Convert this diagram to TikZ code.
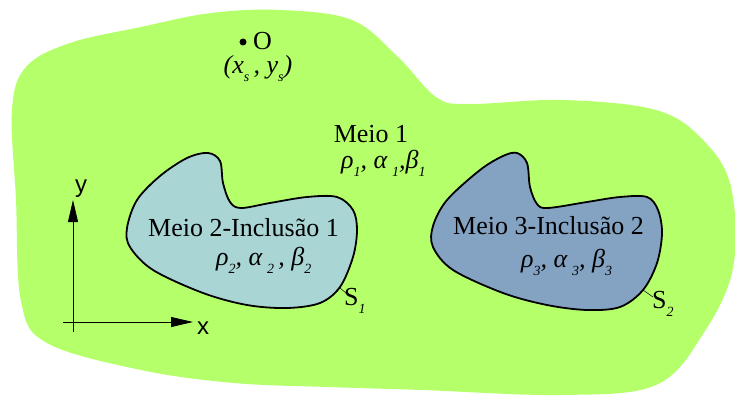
\documentclass[tikz,border=0pt]{standalone}
\usepackage{fontspec}
\setmainfont{Liberation Serif}
\newfontfamily\axisfont{Liberation Sans}
\usetikzlibrary{arrows.meta, positioning}
\definecolor{meioOne}{HTML}{B5FF6B}
\definecolor{meioTwo}{HTML}{A9D5D5}
\definecolor{meioThree}{HTML}{84A3C3}
\newcommand{\idx}[1]{\raisebox{-8pt}{\fontsize{14}{14}\selectfont\itshape #1}}

\begin{document}
\begin{tikzpicture}[
    x=1pt, y=-1pt,
    lbl/.style={inner sep=0pt, font=\fontsize{26}{30}\selectfont, align=center},
    axlbl/.style={inner sep=0pt, font=\axisfont\fontsize{24}{28}\selectfont},
    inclusion/.style={draw=black, line width=1.8pt},
    axis/.style={-{Triangle[length=22pt, width=10pt]}, line width=0.8pt},
    tick/.style={line width=0.5pt},
]
\useasboundingbox (0,0) rectangle (735,401);

% Meio 1 (background medium)
\fill[meioOne] plot[smooth cycle, tension=0.6] coordinates {
    (12,110) (26,67) (70,43) (141,27) (211,13) (281,10) (352,20) (398,57)
    (436,97) (469,104) (563,100) (656,110) (703,140) (731,187) (733,268)
    (703,334) (656,385) (563,395) (422,390) (328,387) (234,383) (141,370)
    (47,343) (21,301) (16,200)};

% Inclusions
\draw[inclusion, fill=meioTwo] plot[smooth cycle, tension=0.55] coordinates {
    (208,153) (220,161) (223,183) (230,202) (241,208) (270,203) (307,197)
    (337,197) (353,210) (357,230) (353,257) (340,287) (320,303) (287,308)
    (247,305) (203,293) (153,270) (130,247) (127,228) (137,200) (160,176)
    (187,158)};
\draw[inclusion, fill=meioThree] plot[smooth cycle, tension=0.55] coordinates {
    (517,153) (527,163) (530,187) (537,204) (548,208) (587,202) (620,197)
    (647,197) (658,210) (662,233) (657,263) (643,290) (620,307) (587,310)
    (547,305) (503,293) (453,270) (433,247) (433,226) (447,200) (480,170)
    (503,156)};

% Source point
\fill (243,42) circle (3.5pt);
\node[lbl, anchor=west] (src) at (253,41) {O};
\node[lbl] (srcxy) at (258,69)
    {\textit{(x}\idx{s}\,\textit{, y}\idx{s}\textit{)}};

% Medium labels
\node[lbl] (meio1) at (371,134) {Meio 1};
\node[lbl, anchor=west] (prop1) at (341,163)
    {\textit{ρ}\idx{1}\textit{, α}\,\idx{1}\textit{,β}\idx{1}};
\node[lbl, anchor=west] (meio2) at (148,228) {Meio 2-Inclusão 1};
\node[lbl, anchor=west] (prop2) at (216,260)
    {\textit{ρ}\idx{2}\textit{, α}\,\idx{2}\,\textit{, β}\idx{2}};
\node[lbl, anchor=west] (meio3) at (453,226) {Meio 3-Inclusão 2};
\node[lbl, anchor=west] (prop3) at (521,262)
    {\textit{ρ}\idx{3}\textit{, α}\,\idx{3}\textit{, β}\idx{3}};

% Boundaries
\coordinate (s1pt) at (339,287);
\coordinate (s1end) at (347,294);
\node[lbl, anchor=north west] (s1) at (344,288) {S\idx{1}};
\draw[tick] (s1pt) -- (s1end);
\coordinate (s2pt) at (643,290);
\coordinate (s2end) at (653,297);
\node[lbl, anchor=north west] (s2) at (652,291) {S\idx{2}};
\draw[tick] (s2pt) -- (s2end);

% Axes
\coordinate (ybot) at (73,332);
\coordinate (ytop) at (73,200);
\coordinate (xleft) at (63,322);
\coordinate (xright) at (193,322);
\node[axlbl] (ylab) at (81,189) {y};
\node[axlbl] (xlab) at (203,328) {x};
\draw[axis] (ybot) -- (ytop);
\draw[axis] (xleft) -- (xright);
\end{tikzpicture}
\end{document}
